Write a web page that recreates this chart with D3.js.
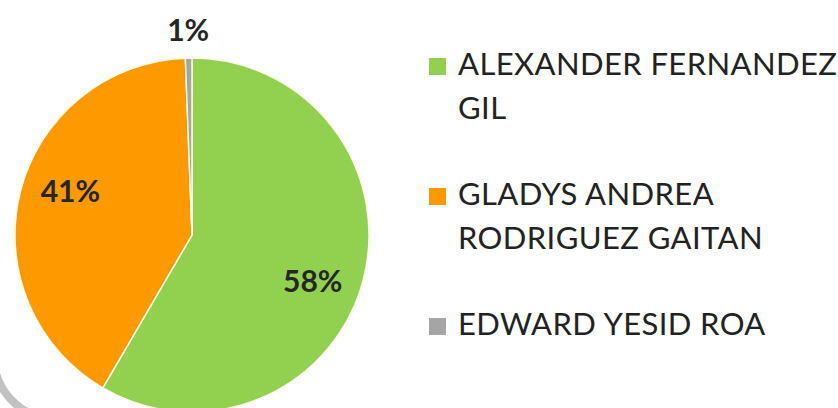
<!DOCTYPE html>
<html>
<head>
<meta charset="utf-8">
<script src="https://cdn.jsdelivr.net/npm/d3@7"></script>
<style>
  html, body { margin: 0; padding: 0; background: #fff; }
  svg { display: block; }
</style>
</head>
<body>
<svg id="chart" width="838" height="408"></svg>
<script>
// ---- data ----
const categories = ["ALEXANDER FERNANDEZ GIL", "GLADYS ANDREA RODRIGUEZ GAITAN", "EDWARD YESID ROA"];
const legendLines = [["ALEXANDER FERNANDEZ", "GIL"], ["GLADYS ANDREA", "RODRIGUEZ GAITAN"], ["EDWARD YESID ROA"]];
const values = [58.4, 41.0, 0.6];
const colors = ["#92D050", "#FF9900", "#A5A5A5"];

const svg = d3.select("#chart");
const W = 838, H = 408;
svg.append("rect").attr("width", W).attr("height", H).attr("fill", "#fff");

// frame corner remnant (bottom-left)
svg.append("path")
  .attr("d", "M -6 366 Q 2 404 40 418")
  .attr("fill", "none")
  .attr("stroke", "#a8a8a8")
  .attr("stroke-width", 8)
  .attr("opacity", 0.7);

const cx = 192, cy = 235, r = 177;
const data = categories.map((c, i) => ({ name: c, value: values[i], color: colors[i] }));

const pie = d3.pie().value(d => d.value).sort(null);
const arcs = pie(data);
const arc = d3.arc().innerRadius(0).outerRadius(r);
const labelR = r * 0.73, labelShift = 0.1;
const outerArc = d3.arc().innerRadius(r + 28).outerRadius(r + 28);

const g = svg.append("g").attr("transform", `translate(${cx},${cy})`);
g.selectAll("path.slice").data(arcs).join("path")
  .attr("class", "slice")
  .attr("d", arc)
  .attr("fill", d => d.data.color)
  .attr("stroke", "#fffbe6")
  .attr("stroke-width", 1.5);

const fmt = v => Math.round(v) + "%";
g.selectAll("text.lbl").data(arcs).join("text")
  .attr("class", "lbl")
  .attr("transform", d => {
    let p;
    if ((d.endAngle - d.startAngle) < 0.2) {
      p = outerArc.centroid(d);
    } else {
      const a = (d.startAngle + d.endAngle) / 2 + labelShift;
      p = [Math.sin(a) * labelR, -Math.cos(a) * labelR];
    }
    return `translate(${p[0]},${p[1]})`;
  })
  .attr("text-anchor", "middle")
  .attr("dy", "0.36em")
  .attr("font-family", "Lato, 'Open Sans', sans-serif")
  .attr("font-weight", "bold")
  .attr("font-size", 30)
  .attr("fill", "#262626")
  .text(d => fmt(d.data.value));

// ---- legend ----
const legendY = d3.scalePoint().domain(categories).range([75, 335]);
const lineH = 44;
const lg = svg.append("g");
categories.forEach((c, i) => {
  const lines = legendLines[i];
  const y0 = i === 1 ? 205 : legendY(c);
  lg.append("rect")
    .attr("x", 429).attr("y", y0 - 17)
    .attr("width", 17).attr("height", 17)
    .attr("fill", colors[i]);
  const t = lg.append("text")
    .attr("x", 458).attr("y", y0)
    .attr("font-family", "Lato, 'Open Sans', sans-serif")
    .attr("font-size", 31)
    .attr("letter-spacing", 0.4)
    .attr("fill", "#222");
  lines.forEach((ln, j) => {
    t.append("tspan").attr("x", 458).attr("y", y0 + j * lineH).text(ln);
  });
});
</script>
</body>
</html>
